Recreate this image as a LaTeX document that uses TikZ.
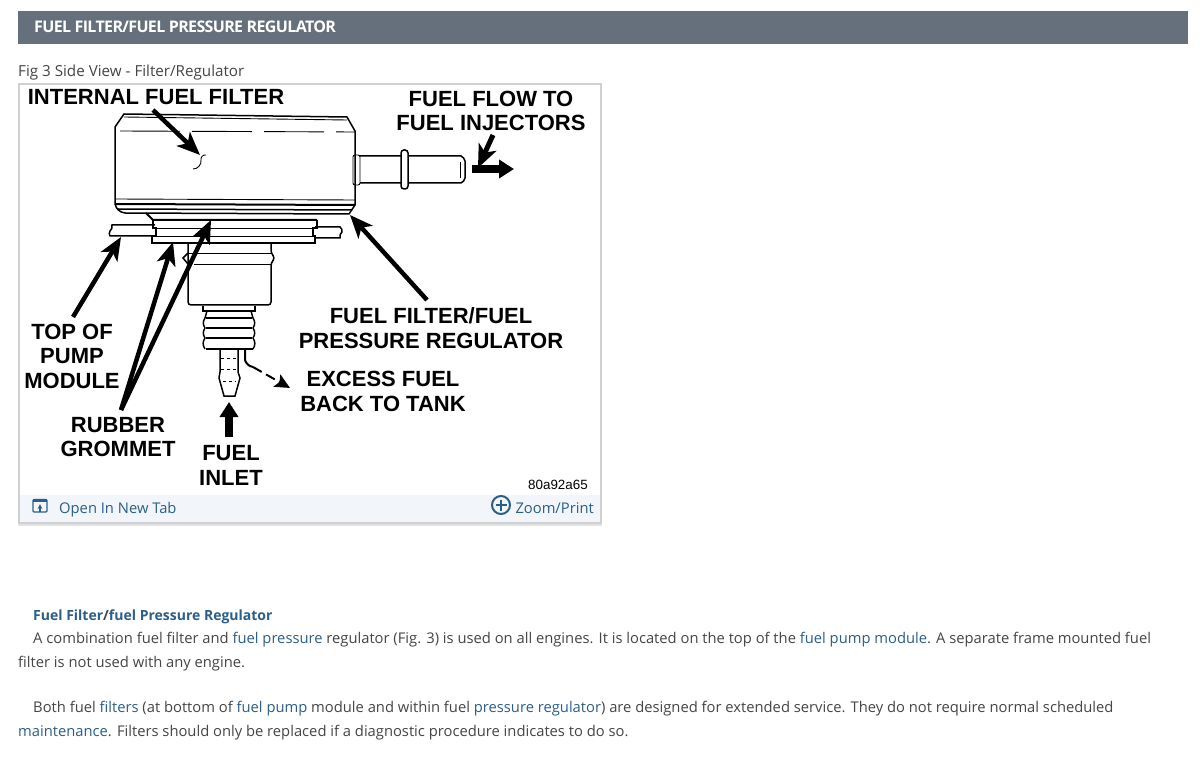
\documentclass[tikz,border=0pt]{standalone}
\usepackage{fontspec}
\usepackage{xcolor}
\usetikzlibrary{arrows.meta}
\setmainfont{Open Sans}
\newfontfamily\labelfont{Liberation Sans}
\definecolor{barcol}{HTML}{66707C}
\definecolor{linkcol}{HTML}{2B5F88}
\definecolor{bodycol}{HTML}{454545}
\definecolor{framecol}{HTML}{D0D0D0}
\definecolor{footcol}{HTML}{F2F5F9}
\newcommand{\lnk}[1]{\textcolor{linkcol}{#1}}
\tikzset{
	partlabel/.style={font=\labelfont\bfseries\fontsize{22}{24.5}\selectfont,align=center,inner sep=0pt,text=black},
	bodyline/.style={anchor=base west,inner sep=0pt,text=bodycol,font=\fontsize{14.75}{17}\selectfont},
	fatarrow/.style={line width=4.5pt,-{Stealth[length=23pt,width=19pt,inset=6pt]}},
	bigarrow/.style={line width=8pt,-{Triangle[length=15pt,width=18pt]}},
	outline/.style={line width=1.5pt,black},
	thinline/.style={line width=.9pt,black},
	heavyline/.style={line width=2pt,black}
}
\begin{document}
\begin{tikzpicture}[x=1pt,y=-1pt]
	\useasboundingbox (0,0) rectangle (1200,759);
	\fill[white] (0,0) rectangle (1200,759);
	\fill[barcol] (18,11) rectangle (1188,44);
	\node[anchor=west,inner sep=0pt,text=white,font=\fontsize{16}{18}\selectfont\addfontfeature{LetterSpace=-4}\bfseries] (title) at (34,27) {FUEL FILTER/FUEL PRESSURE REGULATOR};
	\node[bodyline,font=\fontsize{15.2}{17}\selectfont] (caption) at (18,77) {Fig 3 Side View - Filter/Regulator};
	\fill[framecol!60] (18,522) rectangle (602,526);
	\fill[footcol] (19,495) rectangle (600,522);
	\draw[framecol,line width=1.5pt] (19,84) rectangle (601,523);

	\draw[outline] (124,114) -- (347,117) -- (355,131) -- (355,205) -- (349,214) -- (125,213) to[bend left=35] (115,204) -- (115,127) -- cycle;
	\draw[thinline] (124,117) -- (347,120);
	\draw[thinline,dash pattern=on 60pt off 12pt] (120,131) -- (355,132);
	\draw[thinline] (115,199) -- (355,200);
	\draw[heavyline] (115,204) -- (355,205);
	\draw[line width=1.5pt] (118,209) -- (352,210);
	\draw[heavyline] (146,213) -- (153,220) -- (317,220);
	\draw[outline] (153,220) -- (153,228) -- (156,228) -- (156,236) -- (152,236) -- (152,243) -- (315,243) -- (315,236) -- (313,236) -- (313,228) -- (317,228) -- (317,220);
	\draw[thinline] (153,228) -- (317,228) (156,236) -- (313,236);
	\draw[outline] (155,225) -- (112,225) to[bend left=30] (110,231) to[bend right=30] (110,236) -- (152,236);
	\draw[outline] (315,227) -- (340,227) to[bend left=30] (342,232) to[bend right=30] (340,238) -- (315,238);

	\draw[outline,rounded corners=3pt] (188,243) -- (188,305) -- (271,305) -- (271,263) -- (275,258) -- (271,253) -- (271,243);
	\draw[outline] (188,253) -- (183,258) -- (188,264);
	\draw[thinline] (188,253) -- (271,253) (194,264) -- (271,264);
	\draw[heavyline] (203,306) -- (203,311) -- (255,311) -- (255,306);
	\draw[heavyline] (206,318) -- (252,318) (206,328) -- (252,328) (206,338) -- (252,338) (206,349) -- (253,349);
	\draw[outline] (207,311) -- (205,318) to[bend right=35] (205,328) to[bend right=35] (205,338) to[bend right=35] (205,349);
	\draw[outline] (251,311) -- (253,318) to[bend left=35] (253,328) to[bend left=35] (253,338) to[bend left=35] (253,349);
	\draw[outline] (220,350) -- (220,372) -- (219,378) -- (224,396) -- (235,396) -- (240,378) -- (238,372) -- (238,350);
	\draw[thinline,dashed] (221,358) -- (237,358) (221,369) -- (237,369) (223,381) -- (236,381);

	\draw[thinline,rounded corners=2pt] (353,155) rectangle (360,185);
	\draw[outline] (360,156) -- (401,156) (408,156) -- (461,156) to[bend left=25] (465,161) -- (465,178) to[bend left=25] (461,183) -- (408,183) (401,183) -- (360,183);
	\draw[outline,rounded corners=3pt] (401,150) rectangle (408,189);
	\draw[thinline] (460,162) -- (460,178);
	\draw[thinline] (206,155) to[bend right=60] (201,160) to[bend left=50] (193,169);

	\coordinate (internaltail) at (153,110);
	\coordinate (internaltip) at (200,155);
	\coordinate (injectortail) at (493,135);
	\coordinate (injectorbend) at (478,168);
	\coordinate (flowtail) at (472,169);
	\coordinate (flowtip) at (514,169);
	\coordinate (pumptail) at (73,317);
	\coordinate (pumptip) at (121,237);
	\coordinate (grommetroot) at (121,410);
	\coordinate (grommettipa) at (173,242);
	\coordinate (grommettipb) at (211,220);
	\coordinate (regtail) at (427,300);
	\coordinate (regtip) at (350,215);
	\coordinate (returnbend) at (253,367);
	\coordinate (returnstart) at (245,350);
	\coordinate (returntip) at (290,388);
	\coordinate (inlettail) at (229,437);
	\coordinate (inlettip) at (229,402);

	\draw[fatarrow] (internaltail) -- (internaltip);
	\draw[fatarrow,line width=5pt] (injectortail) -- (injectorbend);
	\draw[bigarrow] (flowtail) -- (flowtip);
	\draw[fatarrow] (pumptail) -- (pumptip);
	\draw[fatarrow] (grommetroot) -- (grommettipa);
	\draw[fatarrow] (grommetroot) -- (grommettipb);
	\draw[fatarrow] (regtail) -- (regtip);
	\draw[heavyline] (returnstart) -- ++(0,10) to[bend right=30] (returnbend);
	\draw[heavyline,dash pattern=on 10pt off 5pt,-{Stealth[length=15pt,width=14pt,inset=3pt]}] (returnbend) -- (returntip);
	\draw[bigarrow] (inlettail) -- (inlettip);

	\node[partlabel] (internal) at (156,97) {INTERNAL FUEL FILTER};
	\node[partlabel] (flow) at (491,111) {FUEL FLOW TO\\FUEL INJECTORS};
	\node[partlabel] (regulator) at (431,328) {FUEL FILTER/FUEL\\PRESSURE REGULATOR};
	\node[partlabel] (pump) at (72,356) {TOP OF\\PUMP\\MODULE};
	\node[partlabel] (grommet) at (118,437) {RUBBER\\GROMMET};
	\node[partlabel] (inlet) at (231,465.5) {FUEL\\INLET};
	\node[partlabel] (excess) at (383,391.5) {EXCESS FUEL\\BACK TO TANK};
	\node[inner sep=0pt,font=\labelfont\fontsize{13.4}{15}\selectfont] (partno) at (558,485) {80a92a65};

	\draw[linkcol,line width=1.4pt,rounded corners=1pt] (33,499.5) rectangle (47,512);
	\draw[linkcol,line width=2.5pt] (33,500.5) -- (47,500.5);
	\draw[linkcol,line width=1.2pt,->,>=stealth] (40,512) -- (40,504);
	\node[anchor=base west,inner sep=0pt,text=linkcol,font=\fontsize{14.75}{17}\selectfont] (opentab) at (59,513) {Open In New Tab};
	\node[draw=linkcol,line width=2pt,circle,minimum size=18pt,inner sep=0pt] (zoomicon) at (501,505) {};
	\draw[linkcol,line width=2pt] (zoomicon.center) ++(-5.5,0) -- ++(11,0) (zoomicon.center) ++(0,-5.5) -- ++(0,11);
	\node[anchor=base east,inner sep=0pt,text=linkcol,font=\fontsize{14.75}{17}\selectfont] (zoomprint) at (594,513) {Zoom/Print};

	\node[bodyline,font=\fontsize{14}{17}\selectfont\bfseries] (heading) at (33,620) {\lnk{Fuel Filter}/\lnk{fuel Pressure Regulator}};
	\node[bodyline] (linea) at (33,643) {A combination fuel filter and \lnk{fuel pressure} regulator (Fig. 3) is used on all engines. It is located on the top of the \lnk{fuel pump module}. A separate frame mounted fuel};
	\node[bodyline] (lineb) at (18,667) {filter is not used with any engine.};
	\node[bodyline] (linec) at (33,712) {Both fuel \lnk{filters} (at bottom of \lnk{fuel pump} module and within fuel \lnk{pressure regulator}) are designed for extended service. They do not require normal scheduled};
	\node[bodyline] (lined) at (18,736) {\lnk{maintenance}. Filters should only be replaced if a diagnostic procedure indicates to do so.};
\end{tikzpicture}
\end{document}
